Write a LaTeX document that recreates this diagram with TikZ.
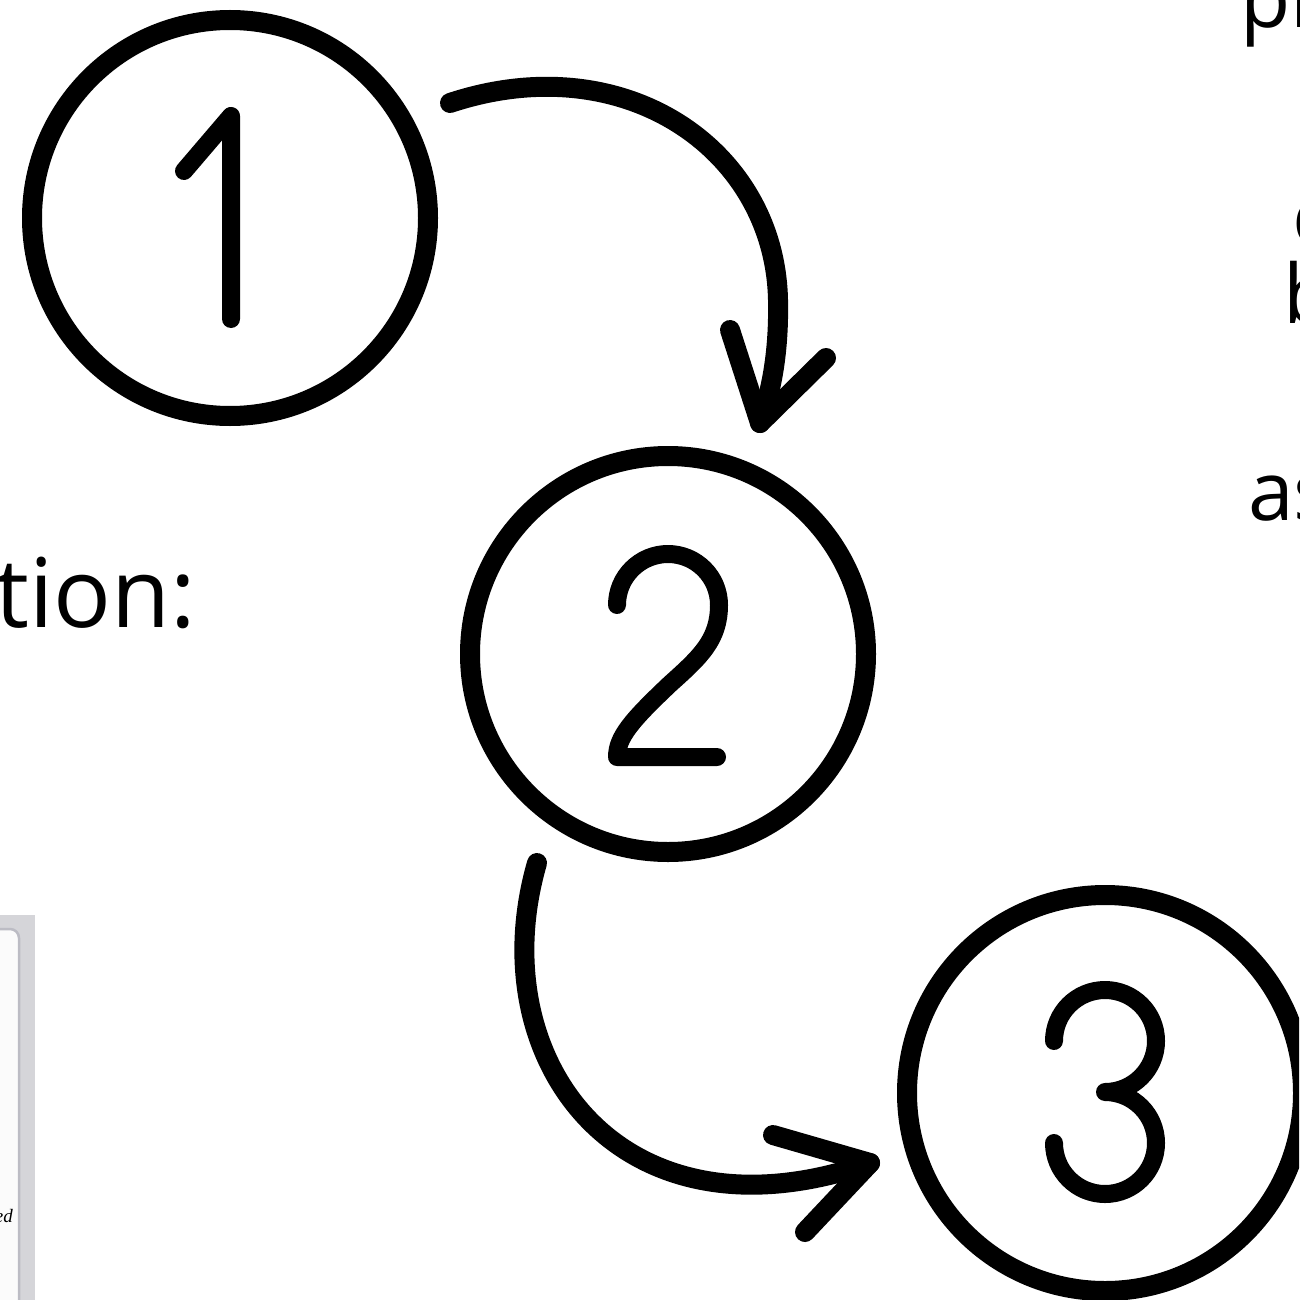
\documentclass[tikz,border=0pt]{standalone}
\usepackage{fontspec}
\newfontfamily\labelfont{Open Sans}
\newfontfamily\notefont{Liberation Serif}
\definecolor{panelgrey}{HTML}{D5D5D9}
\definecolor{edgegrey}{HTML}{BCBCC4}
\definecolor{paperwhite}{HTML}{FBFBFB}
\begin{document}
\begin{tikzpicture}[x=1pt, y=-1pt, line cap=round, line join=round]
\tikzset{
  ring/.style={circle, draw=black, line width=20pt, minimum size=396pt, inner sep=0pt},
  glyph/.style={draw=black, line width=18pt},
  flow/.style={draw=black, line width=20pt},
  frag/.style={anchor=base west, inner sep=0pt, font=\labelfont\fontsize{82}{90}\selectfont},
}
\useasboundingbox (0,0) rectangle (1299,1300);
\clip (0,0) rectangle (1299,1300);

% corner of a side panel
\fill[panelgrey] (0,915) rectangle (35,1300);
\draw[fill=paperwhite, draw=edgegrey, line width=2.5pt, rounded corners=9pt] (-30,929) rectangle (19,1330);
\node[anchor=base east, inner sep=0pt, font=\notefont\itshape\fontsize{19}{22}\selectfont] (ed) at (13,1222) {ed};

% step circles
\node[ring] (one) at (230,218) {};
\node[ring] (two) at (668,654) {};
\node[ring] (three) at (1105,1093) {};

% digit 1
\draw[glyph] (184,171) -- (231,116) -- (231,319);
% digit 2
\draw[glyph] (617,605) arc[start angle=180, end angle=360, radius=51]
  .. controls (719,640) and (700,657) .. (670,684)
  .. controls (632,720) and (617,737) .. (617,757) -- (717,757);
% digit 3
\draw[glyph] (1054,1041) arc[start angle=180, end angle=450, radius=51]
  arc[start angle=270, end angle=540, radius=51];

% arrow from step 1 to step 2
\coordinate (a1s) at (450,103);
\coordinate (a1t) at (760,423);
\coordinate (a1l) at (730,330);
\coordinate (a1r) at (826,358);
\draw[flow] (a1s) .. controls (625,45) and (775,150) .. (778,300)
  .. controls (779,350) and (772,390) .. (a1t);
\draw[flow] (a1l) -- (a1t) -- (a1r);

% arrow from step 2 to step 3
\coordinate (a2s) at (537,863);
\coordinate (a2t) at (870,1163);
\coordinate (a2u) at (773,1135);
\coordinate (a2d) at (805,1232);
\draw[flow] (a2s) .. controls (480,1060) and (620,1250) .. (a2t);
\draw[flow] (a2u) -- (a2t) -- (a2d);

% text fragments
\node[frag, font=\labelfont\fontsize{96}{104}\selectfont] (tion) at (-5,627) {tion:};
\node[frag] (pl) at (1240,28) {pl};
\node[frag] (c) at (1292,245) {c};
\node[frag] (b) at (1283,323) {b};
\node[frag] (as) at (1248,520) {as};
\end{tikzpicture}
\end{document}
